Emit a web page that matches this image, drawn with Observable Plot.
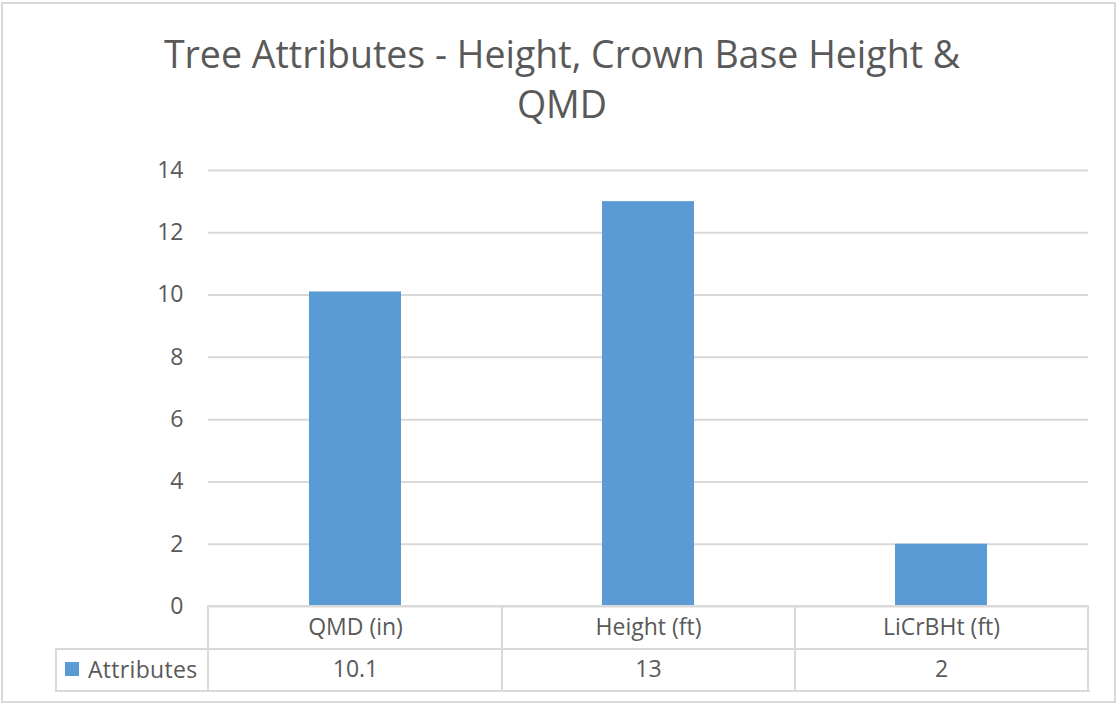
<!DOCTYPE html>
<html>
<head>
<meta charset="utf-8">
<script src="https://cdn.jsdelivr.net/npm/d3@7"></script>
<script src="https://cdn.jsdelivr.net/npm/@observablehq/plot@0.6"></script>
<style>
  body { margin: 0; background: #fff; }
  #wrap { position: relative; width: 1120px; height: 708px; font-family: "Open Sans", Lato, sans-serif; color: #595959; overflow: hidden; }
  #frame { position: absolute; left: 1px; top: 2px; width: 1115px; height: 701px; border: 2px solid #d9d9d9; box-sizing: border-box; pointer-events: none; }
  #title { position: absolute; left: 127px; top: 29px; width: 870px; text-align: center; font-size: 37.5px; line-height: 50px; font-weight: 400; color: #595959; }
  .ln { position: absolute; background: #d9d9d9; }
  #legend { position: absolute; left: 65px; top: 648px; height: 42px; display: flex; align-items: center; font-size: 23px; color: #595959; letter-spacing: 0.3px; }
  #legend .sw { width: 14px; height: 14px; margin-right: 9px; }
  svg { position: absolute; left: 0; top: 0; }
</style>
</head>
<body>
<div id="wrap">
  <div id="title"></div>
  <div id="chart"></div>
  <div id="legend"></div>
  <div id="frame"></div>
</div>
<script>
(function () {
const chartTitle = "Tree Attributes - Height, Crown Base Height & QMD";
const seriesName = "Attributes";
const categories = ["QMD (in)", "Height (ft)", "LiCrBHt (ft)"];
const values = [10.1, 13, 2];
const yTicks = [0, 2, 4, 6, 8, 10, 12, 14];
const barColor = "#5B9BD5";
const textColor = "#595959";
const gridColor = "#d9d9d9";

const data = categories.map((c, i) => ({cat: c, value: values[i]}));

document.getElementById("title").textContent = chartTitle;

const chart = Plot.plot({
  width: 1120,
  height: 708,
  marginTop: 170,
  marginBottom: 102,
  marginLeft: 208,
  marginRight: 32,
  style: {background: "transparent", fontFamily: "'Open Sans', Lato, sans-serif", color: textColor},
  x: {domain: categories, paddingInner: 0.686, paddingOuter: 0.343, axis: null},
  y: {domain: [0, 14], axis: null},
  marks: [
    Plot.gridY(yTicks, {stroke: gridColor, strokeOpacity: 1, strokeWidth: 2}),
    Plot.axisY(yTicks, {tickSize: 0, tickPadding: 25, fontSize: 23, fill: textColor, label: null}),
    Plot.barY(data, {x: "cat", y: "value", fill: barColor}),
    Plot.axisX({tickSize: 0, tickPadding: 0, fontSize: 23, fill: textColor, label: null, dy: 21, lineAnchor: "middle"}),
    Plot.text(data, {x: "cat", text: d => String(d.value), frameAnchor: "bottom", dy: 63, fontSize: 23, fill: textColor, lineAnchor: "middle"})
  ]
});
document.getElementById("chart").appendChild(chart);

// data table borders (decoration)
const wrap = document.getElementById("wrap");
const xs = chart.scale("x");
const bw = xs.bandwidth;
const step = xs.step;
const tLeft = 208, tRight = 1088, tTop = 605, tMid = 648, tBot = 690, legendLeft = 55;
function line(x, y, w, h) {
  const d = document.createElement("div");
  d.className = "ln";
  d.style.left = x + "px"; d.style.top = y + "px"; d.style.width = w + "px"; d.style.height = h + "px";
  wrap.appendChild(d);
}
line(tLeft, tTop, tRight - tLeft, 2);
line(legendLeft, tMid, tRight - legendLeft, 2);
line(legendLeft, tBot, tRight - legendLeft + 2, 2);
line(legendLeft, tMid, 2, tBot - tMid);
const bounds = [tLeft];
categories.forEach(c => bounds.push(xs.apply(c) + bw + (step - bw) / 2));
bounds.forEach(b => line(Math.round(b) - 1, tTop, 2, tBot - tTop));

const lg = document.getElementById("legend");
lg.innerHTML = `<span class="sw" style="background:${barColor}"></span><span>${seriesName}</span>`;
})();
</script>
</body>
</html>
